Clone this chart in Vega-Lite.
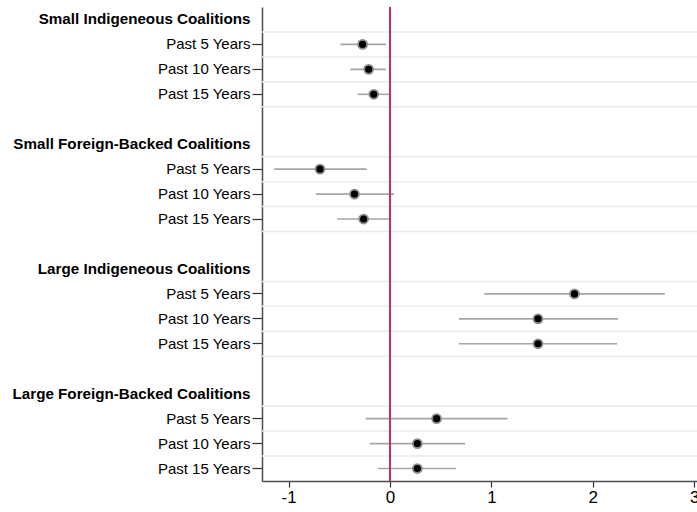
{
  "$schema": "https://vega.github.io/schema/vega-lite/v6.json",
  "autosize": {"type": "none"},
  "padding": {"left": 262, "top": 7, "right": 0, "bottom": 31},
  "width": 435,
  "height": 474,
  "background": "white",
  "config": {"view": {"stroke": null}, "font": "Liberation Sans"},
  "data": {"values": [
    {"key": "Small Indigeneous Coalitions", "type": "header"},
    {"key": "Small Indigeneous Coalitions|Past 5 Years", "type": "item", "coef": -0.27, "lo": -0.49, "hi": -0.04},
    {"key": "Small Indigeneous Coalitions|Past 10 Years", "type": "item", "coef": -0.21, "lo": -0.39, "hi": -0.04},
    {"key": "Small Indigeneous Coalitions|Past 15 Years", "type": "item", "coef": -0.16, "lo": -0.32, "hi": -0.01},
    {"key": "blank1", "type": "blank"},
    {"key": "Small Foreign-Backed Coalitions", "type": "header"},
    {"key": "Small Foreign-Backed Coalitions|Past 5 Years", "type": "item", "coef": -0.69, "lo": -1.14, "hi": -0.23},
    {"key": "Small Foreign-Backed Coalitions|Past 10 Years", "type": "item", "coef": -0.35, "lo": -0.73, "hi": 0.04},
    {"key": "Small Foreign-Backed Coalitions|Past 15 Years", "type": "item", "coef": -0.26, "lo": -0.52, "hi": -0.01},
    {"key": "blank2", "type": "blank"},
    {"key": "Large Indigeneous Coalitions", "type": "header"},
    {"key": "Large Indigeneous Coalitions|Past 5 Years", "type": "item", "coef": 1.82, "lo": 0.93, "hi": 2.71},
    {"key": "Large Indigeneous Coalitions|Past 10 Years", "type": "item", "coef": 1.46, "lo": 0.68, "hi": 2.25},
    {"key": "Large Indigeneous Coalitions|Past 15 Years", "type": "item", "coef": 1.46, "lo": 0.68, "hi": 2.24},
    {"key": "blank3", "type": "blank"},
    {"key": "Large Foreign-Backed Coalitions", "type": "header"},
    {"key": "Large Foreign-Backed Coalitions|Past 5 Years", "type": "item", "coef": 0.46, "lo": -0.24, "hi": 1.16},
    {"key": "Large Foreign-Backed Coalitions|Past 10 Years", "type": "item", "coef": 0.27, "lo": -0.2, "hi": 0.74},
    {"key": "Large Foreign-Backed Coalitions|Past 15 Years", "type": "item", "coef": 0.27, "lo": -0.12, "hi": 0.65}
  ]},
  "layer": [
    {
      "mark": {"type": "point", "opacity": 0},
      "encoding": {
        "y": {
          "field": "key", "type": "nominal", "sort": null, "title": null,
          "scale": {"type": "band", "paddingInner": 0, "paddingOuter": 0},
          "axis": {
            "labelExpr": "indexof(datum.value,'|')>=0 ? split(datum.value,'|')[1] : (indexof(datum.value,'blank')==0 ? '' : datum.value)",
            "labelFontWeight": {"condition": {"test": "indexof(datum.value,'|')<0", "value": "bold"}, "value": "normal"},
            "labelFontSize": {"condition": {"test": "indexof(datum.value,'|')<0", "value": 15.2}, "value": 15},
            "tickOpacity": {"condition": {"test": "indexof(datum.value,'|')<0", "value": 0}, "value": 1},
            "labelColor": "#000000",
            "labelPadding": 2,
            "tickSize": 10,
            "tickColor": "#333333",
            "tickWidth": 1.2,
            "domainColor": "#4d4d4d",
            "domainWidth": 1.5,
            "grid": false,
            "labelLimit": 300
          }
        }
      }
    },
    {
      "transform": [{"filter": "datum.type != 'header'"}],
      "mark": {"type": "rule", "color": "#e4ecee", "strokeWidth": 1.5},
      "encoding": {"y": {"field": "key", "type": "nominal", "sort": null, "bandPosition": 0}}
    },
    {
      "transform": [{"filter": "datum.type == 'item'"}],
      "mark": {"type": "rule", "color": "#a6a6a6", "strokeWidth": 1.6},
      "encoding": {
        "x": {"field": "lo", "type": "quantitative"},
        "x2": {"field": "hi"},
        "y": {"field": "key", "type": "nominal", "sort": null}
      }
    },
    {
      "transform": [{"filter": "datum.type == 'header'"}],
      "mark": {"type": "rule", "color": "#c92f55", "strokeWidth": 1.8},
      "encoding": {"x": {"datum": 0, "type": "quantitative"}}
    },
    {
      "transform": [{"filter": "datum.type == 'item'"}],
      "mark": {"type": "point", "filled": true, "fill": "#000000", "fillOpacity": 1, "stroke": "#8c8c8c", "strokeWidth": 1.8, "size": 80, "shape": "circle", "opacity": 1},
      "encoding": {
        "y": {"field": "key", "type": "nominal", "sort": null},
        "x": {
          "field": "coef", "type": "quantitative", "title": null,
          "scale": {"domain": [-1.262, 3.028], "nice": false, "zero": false},
          "axis": {
            "values": [-1, 0, 1, 2, 3],
            "labelExpr": "datum.value < 0 ? '-' + abs(datum.value) : '' + datum.value",
            "labelFontSize": 17,
            "labelColor": "#000000",
            "labelPadding": 2,
            "labelFlush": false,
            "labelBound": false,
            "labelOverlap": false,
            "tickSize": 6,
            "tickColor": "#333333",
            "tickWidth": 1.2,
            "domainColor": "#4d4d4d",
            "domainWidth": 1.5,
            "grid": false
          }
        }
      }
    }
  ]
}
